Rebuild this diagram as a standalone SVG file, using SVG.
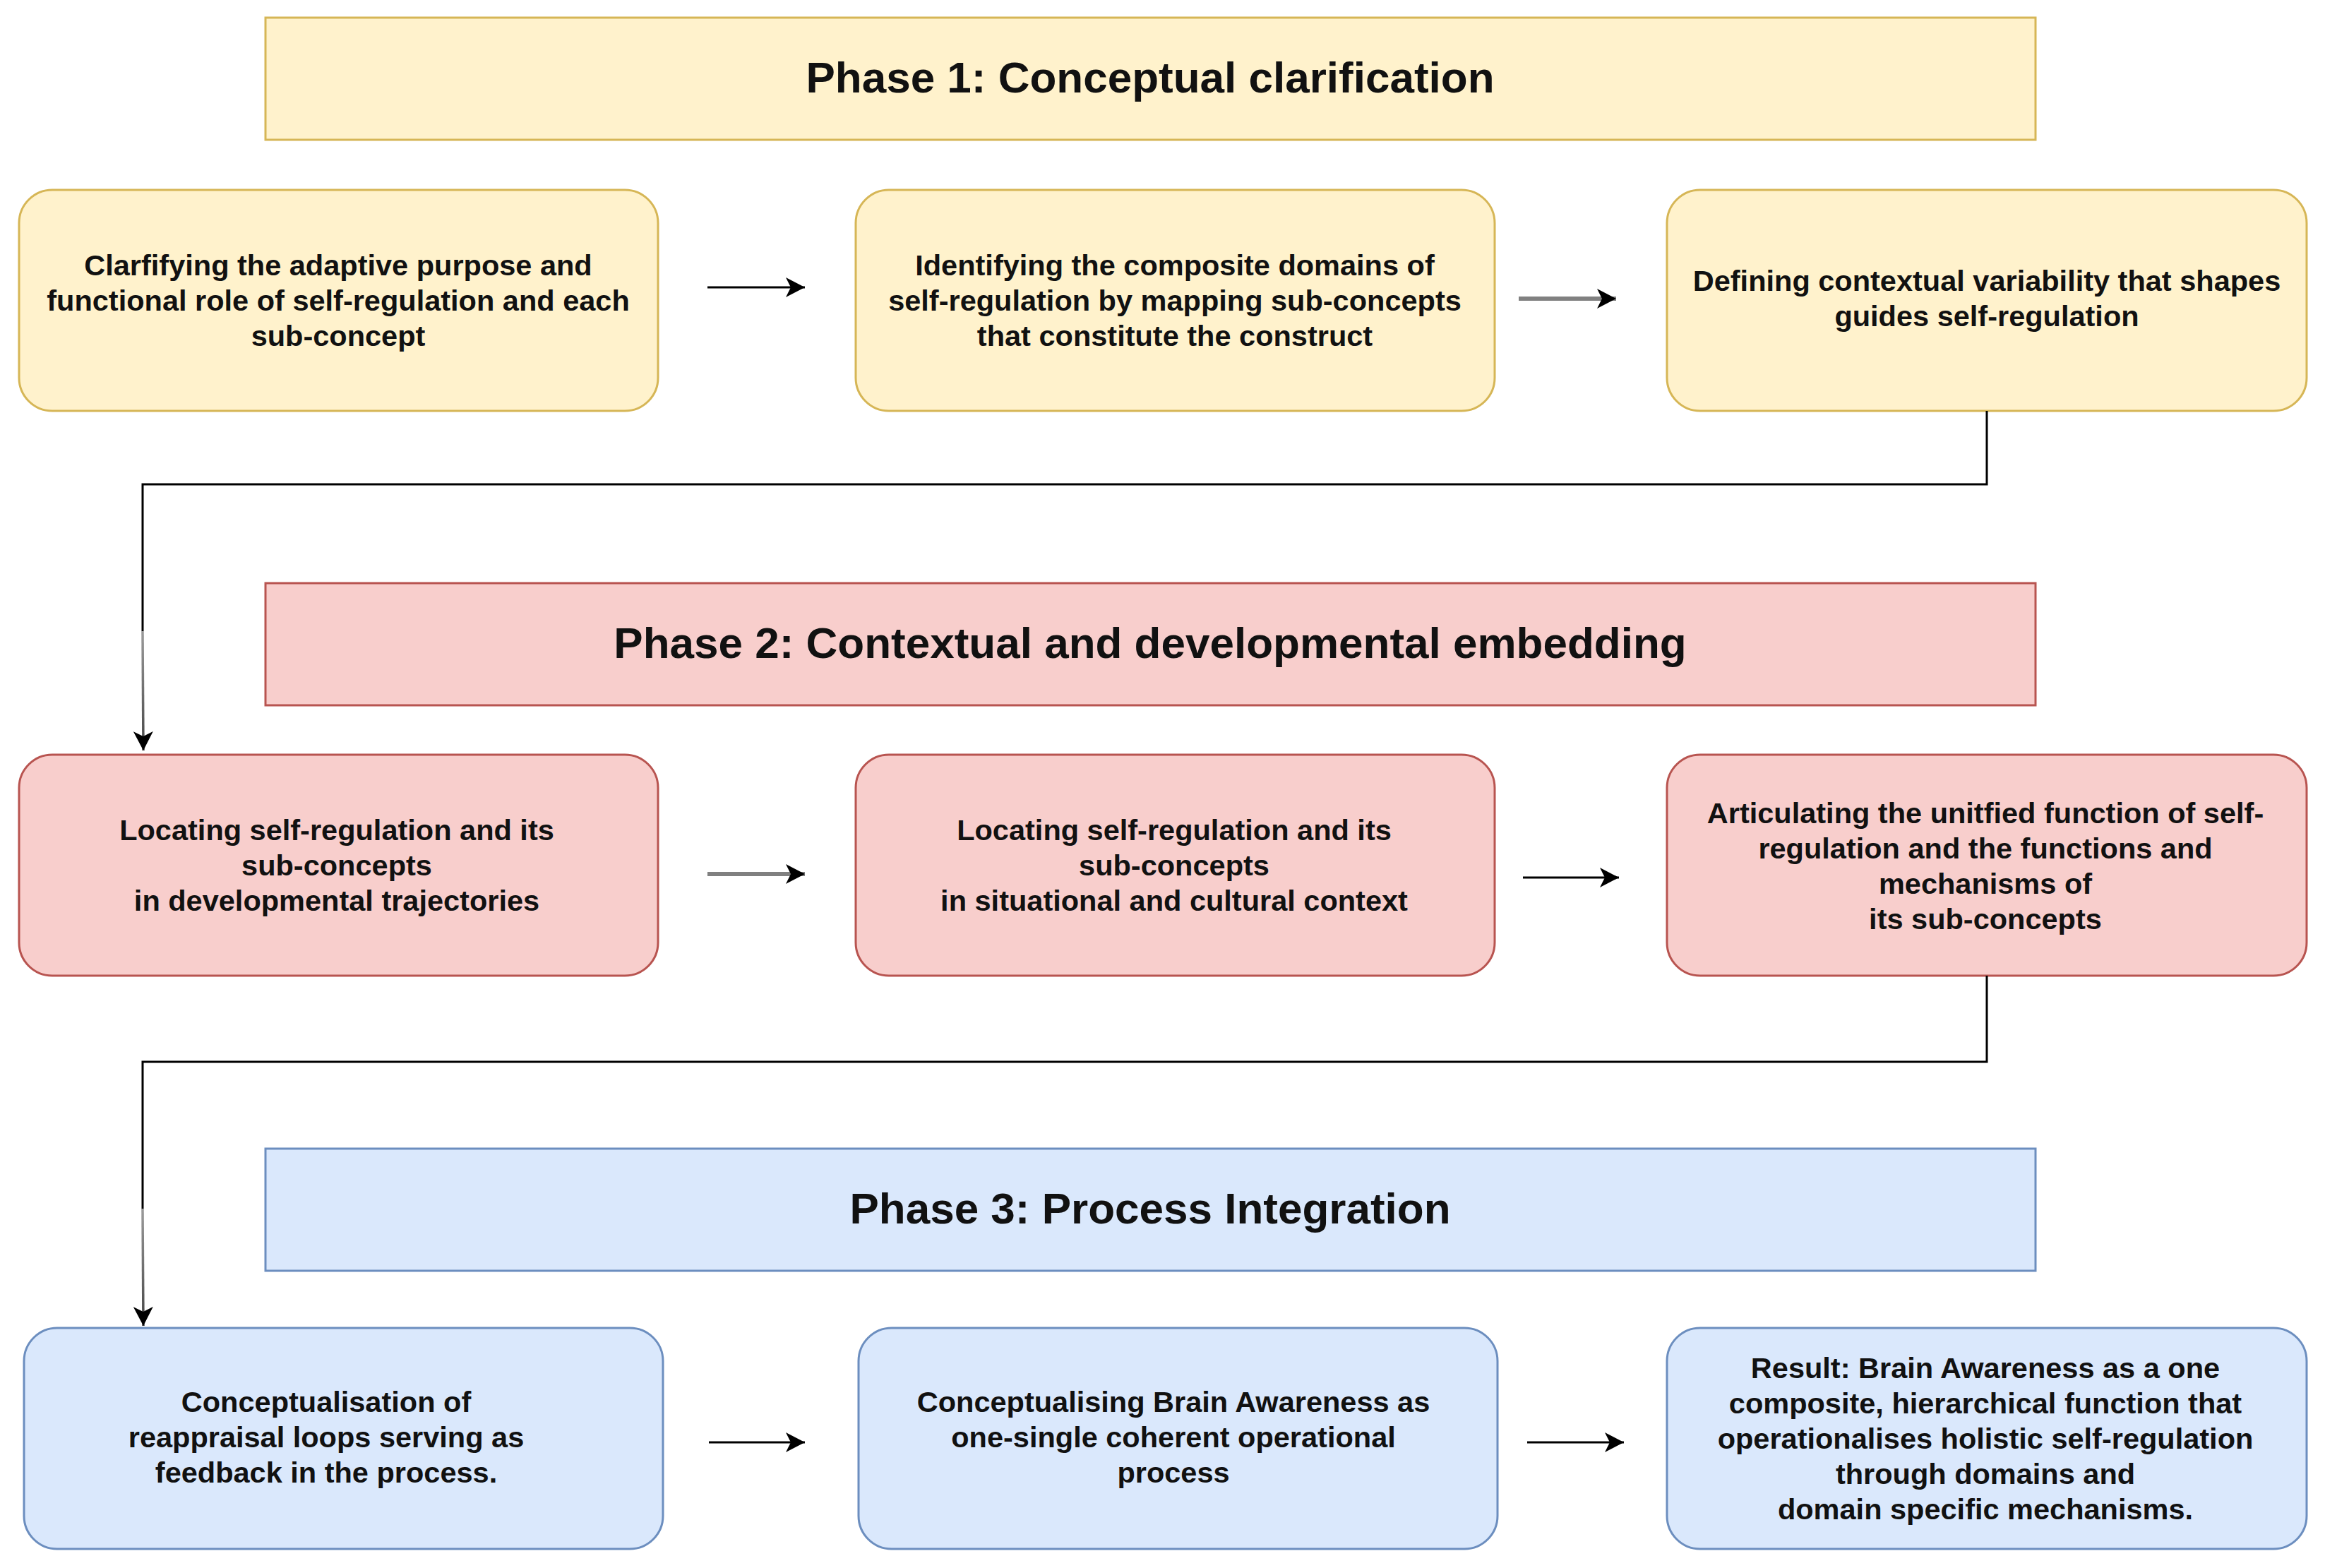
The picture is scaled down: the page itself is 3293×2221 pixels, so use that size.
<svg xmlns="http://www.w3.org/2000/svg" width="3293" height="2221" viewBox="0 0 3293 2221">
<style>
text{font-family:"Liberation Sans",Arial,sans-serif;font-weight:bold;fill:#111;text-anchor:middle}
.h{font-size:62px}
.t{font-size:41.5px}
.y{fill:#fff2cc;stroke:#d6b656;stroke-width:3}
.r{fill:#f8cecc;stroke:#b85450;stroke-width:3}
.b{fill:#dae8fc;stroke:#6c8ebf;stroke-width:3}
.k{fill:none;stroke:#000;stroke-width:3}
.g{fill:none;stroke:#808080;stroke-width:6}
</style>
<defs>
<marker id="ah" viewBox="0 0 27 28" refX="27" refY="14" markerWidth="27" markerHeight="28" markerUnits="userSpaceOnUse" orient="auto">
<path d="M0,0 L27,14 L0,28 L7,14 z" fill="#000"/>
</marker>
<linearGradient id="fd1" gradientUnits="userSpaceOnUse" x1="0" y1="894" x2="0" y2="1063">
<stop offset="0" stop-color="#9a9a9a"/><stop offset="1" stop-color="#444"/>
</linearGradient>
<linearGradient id="fd2" gradientUnits="userSpaceOnUse" x1="0" y1="1712" x2="0" y2="1878">
<stop offset="0" stop-color="#9a9a9a"/><stop offset="1" stop-color="#444"/>
</linearGradient>
</defs>
<rect width="3293" height="2221" fill="#fff"/>

<g id="phase1">
<rect class="y" x="376" y="25" width="2507" height="173"/>
<text class="h" x="1629" y="131">Phase 1: Conceptual clarification</text>
</g>
<g id="phase2">
<rect class="r" x="376" y="826" width="2507" height="173"/>
<text class="h" x="1629" y="932">Phase 2: Contextual and developmental embedding</text>
</g>
<g id="phase3">
<rect class="b" x="376" y="1627" width="2507" height="173"/>
<text class="h" x="1629" y="1733">Phase 3: Process Integration</text>
</g>

<g id="p1a">
<rect class="y" x="27" y="269" width="905" height="313" rx="47"/>
<text class="t" x="479" y="390">Clarfifying the adaptive purpose and</text>
<text class="t" x="479" y="440">functional role of self-regulation and each</text>
<text class="t" x="479" y="490">sub-concept</text>
</g>
<g id="p1b">
<rect class="y" x="1212" y="269" width="905" height="313" rx="47"/>
<text class="t" x="1664" y="390">Identifying the composite domains of</text>
<text class="t" x="1664" y="440">self-regulation by mapping sub-concepts</text>
<text class="t" x="1664" y="490">that constitute the construct</text>
</g>
<g id="p1c">
<rect class="y" x="2361" y="269" width="906" height="313" rx="47"/>
<text class="t" x="2814" y="412">Defining contextual variability that shapes</text>
<text class="t" x="2814" y="462">guides self-regulation</text>
</g>

<g id="p2a">
<rect class="r" x="27" y="1069" width="905" height="313" rx="47"/>
<text class="t" x="477" y="1190">Locating self-regulation and its</text>
<text class="t" x="477" y="1240">sub-concepts</text>
<text class="t" x="477" y="1290">in developmental trajectories</text>
</g>
<g id="p2b">
<rect class="r" x="1212" y="1069" width="905" height="313" rx="47"/>
<text class="t" x="1663" y="1190">Locating self-regulation and its</text>
<text class="t" x="1663" y="1240">sub-concepts</text>
<text class="t" x="1663" y="1290">in situational and cultural context</text>
</g>
<g id="p2c">
<rect class="r" x="2361" y="1069" width="906" height="313" rx="47"/>
<text class="t" x="2812" y="1166">Articulating the unitfied function of self-</text>
<text class="t" x="2812" y="1216">regulation and the functions and</text>
<text class="t" x="2812" y="1266">mechanisms of</text>
<text class="t" x="2812" y="1316">its sub-concepts</text>
</g>

<g id="p3a">
<rect class="b" x="34" y="1881" width="905" height="313" rx="47"/>
<text class="t" x="462" y="2000">Conceptualisation of</text>
<text class="t" x="462" y="2050">reappraisal loops serving as</text>
<text class="t" x="462" y="2100">feedback in the process.</text>
</g>
<g id="p3b">
<rect class="b" x="1216" y="1881" width="905" height="313" rx="47"/>
<text class="t" x="1662" y="2000">Conceptualising Brain Awareness as</text>
<text class="t" x="1662" y="2050">one-single coherent operational</text>
<text class="t" x="1662" y="2100">process</text>
</g>
<g id="p3c">
<rect class="b" x="2361" y="1881" width="906" height="313" rx="47"/>
<text class="t" x="2812" y="1952">Result: Brain Awareness as a one</text>
<text class="t" x="2812" y="2002">composite, hierarchical function that</text>
<text class="t" x="2812" y="2052">operationalises holistic self-regulation</text>
<text class="t" x="2812" y="2102">through domains and</text>
<text class="t" x="2812" y="2152">domain specific mechanisms.</text>
</g>

<g id="connectors">
<line class="k" x1="1002" y1="407" x2="1140" y2="407" marker-end="url(#ah)"/>
<line class="g" x1="2151" y1="423" x2="2289" y2="423" marker-end="url(#ah)"/>
<line class="g" x1="1002" y1="1238" x2="1140" y2="1238" marker-end="url(#ah)"/>
<line class="k" x1="2157" y1="1243" x2="2293" y2="1243" marker-end="url(#ah)"/>
<line class="k" x1="1004" y1="2043" x2="1140" y2="2043" marker-end="url(#ah)"/>
<line class="k" x1="2163" y1="2043" x2="2300" y2="2043" marker-end="url(#ah)"/>
<path class="k" d="M2814,582 V686 H202 V894"/>
<path fill="none" stroke="url(#fd1)" stroke-width="3.5" d="M202,894 L203,1063" marker-end="url(#ah)"/>
<path class="k" d="M2814,1382 V1504 H202 V1712"/>
<path fill="none" stroke="url(#fd2)" stroke-width="3.5" d="M202,1712 L203,1878" marker-end="url(#ah)"/>
</g>
</svg>
